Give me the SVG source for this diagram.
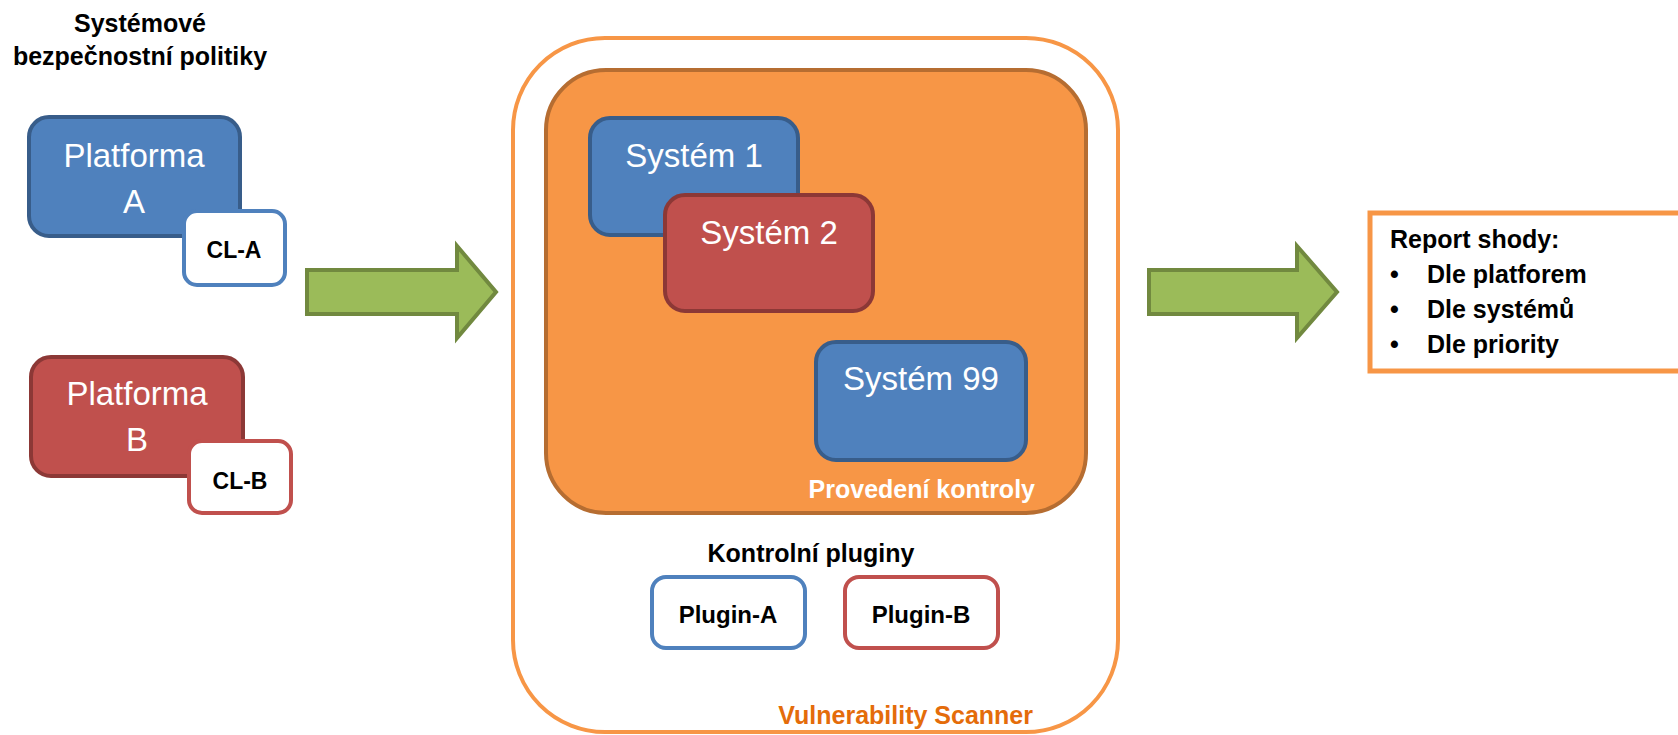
<svg xmlns="http://www.w3.org/2000/svg" width="1678" height="735" viewBox="0 0 1678 735">
<style>
.blue{fill:#4f81bd;stroke:#385d8a;stroke-width:4}
.red{fill:#c0504d;stroke:#8c3836;stroke-width:4}
.wblue{fill:#fff;stroke:#4f81bd;stroke-width:4}
.wred{fill:#fff;stroke:#c0504d;stroke-width:4}
.arrow{fill:#9bbb59;stroke:#71893f;stroke-width:4;stroke-linejoin:miter}
.t{font-family:"Liberation Sans",Arial,sans-serif}
.big{font-size:33px;fill:#fff;text-anchor:middle}
.bold{font-size:25px;font-weight:bold;fill:#000}
.mid{text-anchor:middle}
</style>
<g id="title">
<text class="t bold mid" x="140" y="32">Systémové</text>
<text class="t bold mid" x="140" y="65">bezpečnostní politiky</text>
</g>
<g id="platforma-a">
<rect class="blue" x="29" y="117" width="211" height="119" rx="20"/>
<text class="t big" x="134" y="167">Platforma</text>
<text class="t big" x="134" y="213">A</text>
</g>
<g id="cl-a">
<rect class="wblue" x="184" y="211" width="101" height="74" rx="13"/>
<text class="t bold mid" x="234" y="258" style="font-size:23px">CL-A</text>
</g>
<g id="platforma-b">
<rect class="red" x="31" y="357" width="212" height="119" rx="20"/>
<text class="t big" x="137" y="405">Platforma</text>
<text class="t big" x="137" y="451">B</text>
</g>
<g id="cl-b">
<rect class="wred" x="189" y="441" width="102" height="72" rx="13"/>
<text class="t bold mid" x="240" y="489" style="font-size:23px">CL-B</text>
</g>
<g id="connectors">
<path class="arrow" d="M307,270 L457,270 L457,246 L496,292 L457,338 L457,314 L307,314 Z"/>
<path class="arrow" d="M1149,270 L1297,270 L1297,246 L1337,292 L1297,338 L1297,314 L1149,314 Z"/>
</g>
<g id="vulnerability-scanner">
<rect x="513" y="38" width="605" height="694" rx="92" fill="#fff" stroke="#f79646" stroke-width="4"/>
<text class="t" x="1033" y="724" style="font-size:25px;font-weight:bold;fill:#e46c0a;text-anchor:end">Vulnerability Scanner</text>
</g>
<g id="provedeni-kontroly">
<rect x="546" y="70" width="540" height="443" rx="60" fill="#f79646" stroke="#b66d31" stroke-width="4"/>
<text class="t" x="1035" y="498" style="font-size:25px;font-weight:bold;fill:#fff;text-anchor:end">Provedení kontroly</text>
</g>
<g id="system-1">
<rect class="blue" x="590" y="118" width="208" height="117" rx="20"/>
<text class="t big" x="694" y="167">Systém 1</text>
</g>
<g id="system-2">
<rect class="red" x="665" y="195" width="208" height="116" rx="20"/>
<text class="t big" x="769" y="244">Systém 2</text>
</g>
<g id="system-99">
<rect class="blue" x="816" y="342" width="210" height="118" rx="20"/>
<text class="t big" x="921" y="390">Systém 99</text>
</g>
<g id="kontrolni-pluginy">
<text class="t bold mid" x="811" y="562">Kontrolní pluginy</text>
</g>
<g id="plugin-a">
<rect class="wblue" x="652" y="577" width="153" height="71" rx="14"/>
<text class="t bold mid" x="728" y="623" style="font-size:24px">Plugin-A</text>
</g>
<g id="plugin-b">
<rect class="wred" x="845" y="577" width="153" height="71" rx="14"/>
<text class="t bold mid" x="921" y="623" style="font-size:24px">Plugin-B</text>
</g>
<g id="report">
<rect x="1370" y="213" width="330" height="158" fill="#fff" stroke="#f79646" stroke-width="5"/>
<text class="t bold" x="1390" y="248">Report shody:</text>
<text class="t bold" x="1390" y="283">•</text>
<text class="t bold" x="1427" y="283">Dle platforem</text>
<text class="t bold" x="1390" y="318">•</text>
<text class="t bold" x="1427" y="318">Dle systémů</text>
<text class="t bold" x="1390" y="353">•</text>
<text class="t bold" x="1427" y="353">Dle priority</text>
</g>
</svg>
